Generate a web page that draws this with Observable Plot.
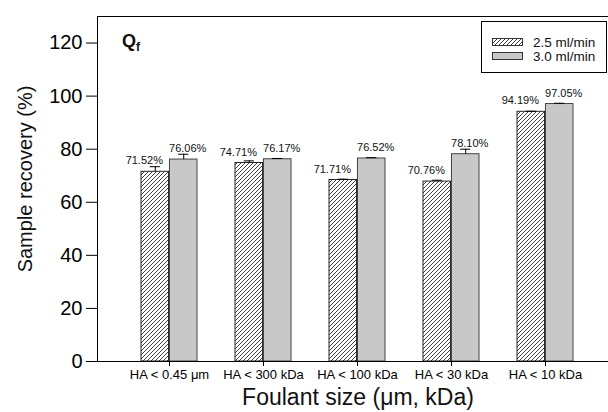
<!DOCTYPE html>
<html><head><meta charset="utf-8">
<script src="https://cdn.jsdelivr.net/npm/d3@7"></script>
<script src="https://cdn.jsdelivr.net/npm/@observablehq/plot@0.6"></script>
<style>
body{margin:0;background:#fff;overflow:hidden}
#chart svg{overflow:hidden;display:block}
</style>
</head><body><div id="chart"></div>
<script>
const categories = ["HA < 0.45 μm", "HA < 300 kDa", "HA < 100 kDa", "HA < 30 kDa", "HA < 10 kDa"];
const series = ["2.5 ml/min", "3.0 ml/min"];
const recovery25 = [71.5, 74.8, 68.4, 67.8, 94.1];
const recovery30 = [76.1, 76.2, 76.5, 78.1, 97.0];
const error25 = [1.9, 0.8, 0.3, 0.5, 0.2];
const error30 = [2.0, 0.3, 0.3, 1.9, 0.3];
const labels25 = ["71.52%", "74.71%", "71.71%", "70.76%", "94.19%"];
const labels30 = ["76.06%", "76.17%", "76.52%", "78.10%", "97.05%"];
const yTicks = [0, 20, 40, 60, 80, 100, 120];
const yLabel = "Sample recovery (%)";
const xLabel = "Foulant size (μm, kDa)";
const panelLabel = "Q";
const panelSub = "f";

const rows25 = categories.map((c, i) => ({category: c, series: series[0], value: recovery25[i], err: error25[i], label: labels25[i]}));
const rows30 = categories.map((c, i) => ({category: c, series: series[1], value: recovery30[i], err: error30[i], label: labels30[i]}));

const W = 608, H = 412, mL = 97, mR = 0, mT = 16, mB = 51;
const xEnd = 618;               // plotting frame continues past the cropped right edge
const pi = 0.4, po = 0.45;
const step = (xEnd - mL) / (categories.length - pi + 2 * po);
const bw = step * (1 - pi);
const half = bw / 2, q = bw / 4, cap = 5.5;
const font = "Liberation Sans, Arial, Helvetica, sans-serif";
const hatch = "url(#hatch25)";
const grey = "#c8c8c8";

const plot = Plot.plot({
  width: W, height: H,
  marginLeft: mL, marginRight: mR, marginTop: mT, marginBottom: mB,
  style: {fontFamily: font, background: "#fff", color: "#000", overflow: "hidden"},
  x: {type: "band", domain: categories, range: [mL, xEnd], paddingInner: pi, paddingOuter: po},
  y: {domain: [0, 130]},
  marks: [
    Plot.barY(rows25, {x: "category", y: "value", insetRight: half, fill: hatch, stroke: "#111", strokeWidth: 0.9}),
    Plot.barY(rows30, {x: "category", y: "value", insetLeft: half, fill: grey, stroke: "#333", strokeWidth: 0.9}),
    Plot.ruleX(rows25, {x: "category", y1: "value", y2: d => d.value + d.err, dx: -q, stroke: "#000", strokeWidth: 1}),
    Plot.ruleX(rows30, {x: "category", y1: "value", y2: d => d.value + d.err, dx: q, stroke: "#000", strokeWidth: 1}),
    Plot.tickY(rows25, {x: "category", y: d => d.value + d.err, insetLeft: q - cap, insetRight: bw - q - cap, stroke: "#000", strokeWidth: 1}),
    Plot.tickY(rows30, {x: "category", y: d => d.value + d.err, insetLeft: 3 * q - cap, insetRight: q - cap, stroke: "#000", strokeWidth: 1}),
    Plot.text(rows25, {x: "category", y: "value", text: "label", dx: -q - 11, dy: -11, fontSize: 11, fill: "#111"}),
    Plot.text(rows30, {x: "category", y: "value", text: "label", dx: q + 4, dy: -11, fontSize: 11, fill: "#111"}),
    Plot.ruleY([0, 130], {stroke: "#000", strokeWidth: 1}),
    Plot.axisY({ticks: yTicks, tickSize: 11, tickPadding: 4, fontSize: 20, label: null, stroke: "#000"}),
    Plot.axisX({tickSize: 5, tickPadding: 3, fontSize: 13, label: null, stroke: "#000"}),
    Plot.text([xLabel], {frameAnchor: "bottom", lineAnchor: "bottom", dx: 5, dy: 43, fontSize: 23, fill: "#111"}),
    Plot.text([yLabel], {frameAnchor: "left", textAnchor: "middle", rotate: -90, dx: -72, dy: -10, fontSize: 20, fill: "#111"})
  ]
});

document.getElementById("chart").appendChild(plot);
const svg = d3.select(plot);
const defs = svg.insert("defs", ":first-child");
const pat = defs.append("pattern").attr("id", "hatch25").attr("patternUnits", "userSpaceOnUse")
  .attr("width", 4).attr("height", 4);
pat.append("rect").attr("width", 4).attr("height", 4).attr("fill", "#fff");
pat.append("path").attr("d", "M-1,1 l2,-2 M0,4 l4,-4 M3,5 l2,-2").attr("stroke", "#111").attr("stroke-width", 0.8);

// left axis line of the frame
const yr = plot.scale("y").range;
svg.append("line").attr("x1", mL + 0.5).attr("x2", mL + 0.5).attr("y1", yr[0]).attr("y2", yr[1])
  .attr("stroke", "#000").attr("stroke-width", 1);

// panel label
const pl = svg.append("text").attr("x", 122).attr("y", 47).attr("text-anchor", "start").attr("font-family", font)
  .attr("font-size", 18).attr("font-weight", "bold").attr("fill", "#111");
pl.append("tspan").text(panelLabel);
pl.append("tspan").attr("dy", 4).attr("font-size", 12).text(panelSub);

// legend
const lg = svg.append("g").attr("font-family", font).attr("text-anchor", "start");
lg.append("rect").attr("x", 481.5).attr("y", 21.5).attr("width", 125).attr("height", 51)
  .attr("fill", "#fff").attr("stroke", "#000").attr("stroke-width", 1);
const fills = [hatch, grey];
series.forEach((s, i) => {
  lg.append("rect").attr("x", 492.5).attr("y", 38.5 + i * 14).attr("width", 30).attr("height", 7)
    .attr("fill", fills[i]).attr("stroke", "#222").attr("stroke-width", 0.9);
  lg.append("text").attr("x", 533).attr("y", 46.5 + i * 14).attr("font-size", 13.5).attr("fill", "#111").text(s);
});
</script>
</body></html>
